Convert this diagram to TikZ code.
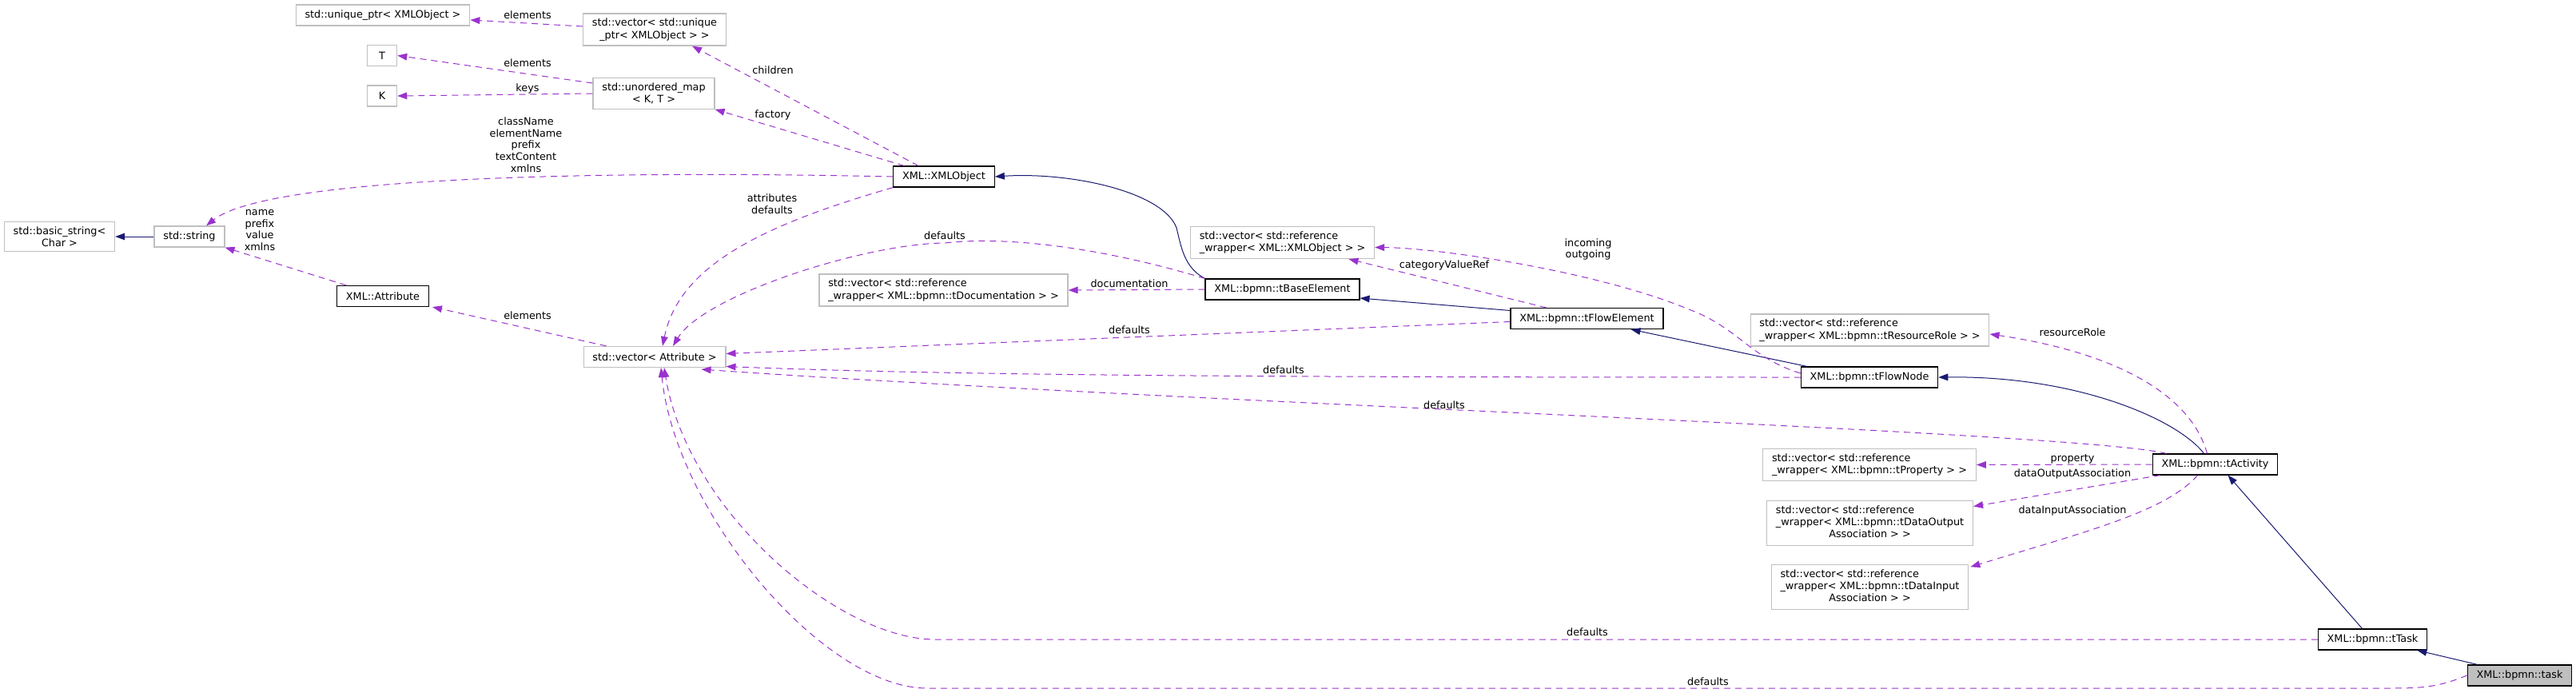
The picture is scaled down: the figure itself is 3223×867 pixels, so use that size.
\documentclass[tikz,border=0pt]{standalone}
\usepackage{fontspec}
\setmainfont{DejaVu Sans}
\usetikzlibrary{arrows.meta,calc}

\definecolor{edgeuse}{HTML}{9A32CD}
\definecolor{edgeinh}{HTML}{191970}
\definecolor{boxgray}{HTML}{BFBFBF}

\newcommand{\lastc}[1]{\multicolumn{1}{@{}c@{}}{#1}}

\tikzset{
  cls/.style={draw=black, line width=0.9pt, fill=white, font=\fontsize{9.6}{11.5}\selectfont,
    inner xsep=8.5pt, inner ysep=4.5pt, minimum height=19.5pt, minimum width=28pt},
  ext/.style={cls, draw=boxgray},
  inherit/.style={draw=edgeinh, line width=0.75pt, -{Triangle[length=9pt,width=6.5pt]}},
  uses/.style={draw=edgeuse, line width=0.75pt, dash pattern=on 6pt off 4.5pt,
    -{Triangle[length=9pt,width=6.5pt]}},
  lbl/.style={font=\fontsize{9.6}{11}\selectfont, inner sep=1pt, align=center, text=black},
}

\begin{document}
\begin{tikzpicture}[x=0.75pt,y=-0.75pt]
\useasboundingbox (0,0) rectangle (3223,867);

% classes
\node[ext, align=center] (basicstr) at (74.5,296) {std::basic\_string<\\Char >};
\node[ext] (stdstr) at (237,296) {std::string};
\node[ext] (uptr) at (479,19) {std::unique\_ptr< XMLObject >};
\node[ext, align=center] (vecuptr) at (819,37) {std::vector< std::unique\\\_ptr< XMLObject > >};
\node[ext] (tparam) at (478,69.5) {T};
\node[ext] (kparam) at (478,120) {K};
\node[ext, align=center] (umap) at (818,117) {std::unordered\_map\\< K, T >};
\node[cls] (attr) at (479,370.5) {XML::Attribute};
\node[ext] (vecattr) at (819,446.5) {std::vector< Attribute >};
\node[cls] (xmlobj) at (1181,221) {XML::XMLObject};
\node[ext, align=left] (vecdoc) at (1180.5,363) {std::vector< std::reference\\\_wrapper< XML::bpmn::tDocumentation > >};
\node[cls] (base) at (1604.5,362) {XML::bpmn::tBaseElement};
\node[ext, align=left] (vecxo) at (1604.5,303.5) {std::vector< std::reference\\\_wrapper< XML::XMLObject > >};
\node[cls] (flowel) at (1985.5,398.5) {XML::bpmn::tFlowElement};
\node[ext, align=left] (vecrr) at (2339.5,413) {std::vector< std::reference\\\_wrapper< XML::bpmn::tResourceRole > >};
\node[cls] (flownode) at (2339,472) {XML::bpmn::tFlowNode};
\node[cls] (activity) at (2771.5,581) {XML::bpmn::tActivity};
\node[ext, align=left] (vecprop) at (2339,581.5) {std::vector< std::reference\\\_wrapper< XML::bpmn::tProperty > >};
\node[ext, inner ysep=3.5pt] (vecout) at (2339.5,654.5) {\begin{tabular}{@{}l@{}}std::vector< std::reference\\\_wrapper< XML::bpmn::tDataOutput\\\lastc{Association > >}\end{tabular}};
\node[ext, inner ysep=3.5pt] (vecin) at (2339.5,734.5) {\begin{tabular}{@{}l@{}}std::vector< std::reference\\\_wrapper< XML::bpmn::tDataInput\\\lastc{Association > >}\end{tabular}};
\node[cls] (ttask) at (2968.5,800) {XML::bpmn::tTask};
\node[cls, fill=boxgray] (task) at (3152.5,845) {XML::bpmn::task};

% inheritance
\draw[inherit] (stdstr) -- (basicstr);
\draw[inherit] (base.north west) .. controls (1482,335) and (1478,310) .. (1472,285) .. controls (1455,240) and (1340,215) .. (xmlobj.east);
\draw[inherit] ($(flowel.west)+(0,-10)$) -- ($(base.east)+(0,11)$);
\draw[inherit] ($(flownode.north west)+(8,0)$) -- ($(flowel.south)+(55,0)$);
\draw[inherit] ($(activity.north)+(-14,0)$) .. controls (2725,525) and (2600,470) .. (flownode.east);
\draw[inherit] ($(ttask.north)+(-13,0)$) -- ($(activity.south)+(16,0)$);
\draw[inherit] ($(task.north west)+(13,0)$) -- ($(ttask.south east)+(-13,0)$);

% members
\draw[uses] ($(vecuptr.west)+(0,-4)$) -- ($(uptr.east)+(0,6)$) node[lbl] at (660,19) {elements};
\draw[uses] ($(umap.west)+(0,-13)$) -- (tparam.east) node[lbl] at (660,79) {elements};
\draw[uses] (umap.west) -- (kparam.east) node[lbl] at (660,111) {keys};
\draw[uses] ($(xmlobj.north)+(-32,0)$) -- ($(vecuptr.south)+(47,0)$) node[lbl] at (967,88) {children};
\draw[uses] ($(xmlobj.north west)+(14,0)$) -- (umap.south east) node[lbl] at (967,144) {factory};
\draw[uses] (xmlobj.west) .. controls (700,212) and (330,225) .. ($(stdstr.north)+(21,0)$)
  node[lbl] at (658,181) {className\\elementName\\prefix\\textContent\\xmlns};
\draw[uses] ($(attr.north west)+(12,0)$) -- (stdstr.south east) node[lbl] at (325,288) {name\\prefix\\value\\xmlns};
\draw[uses] ($(vecattr.north west)+(29,0)$) -- ($(attr.south east)+(4,0)$) node[lbl] at (660,395) {elements};
\draw[uses] (xmlobj.south west) .. controls (960,280) and (850,330) .. ($(vecattr.north)+(10,0)$)
  node[lbl] at (966,255) {attributes\\defaults};
\draw[uses] (base.north west) .. controls (1380,310) and (1260,295) .. (1182,304) .. controls (1080,305) and (880,370) .. ($(vecattr.north)+(23,0)$)
  node[lbl] at (1182,295) {defaults};
\draw[uses] (base.west) -- (vecdoc.east) node[lbl] at (1413,355) {documentation};
\draw[uses] ($(flowel.north)+(-51,0)$) -- ($(vecxo.south)+(83,0)$) node[lbl] at (1807,332) {categoryValueRef};
\draw[uses] ($(flownode.west)+(0,-5)$) .. controls (2190,448) and (2175,410) .. (2113,387) .. controls (2000,340) and (1800,310) .. ($(vecxo.east)+(0,6)$)
  node[lbl] at (1987,312) {incoming\\outgoing};
\draw[uses] ($(flowel.west)+(0,4)$) -- ($(vecattr.east)+(0,-4)$) node[lbl] at (1413,413) {defaults};
\draw[uses] (flownode.west) .. controls (1600,472) and (1200,470) .. ($(vecattr.east)+(0,12)$) node[lbl] at (1606,463) {defaults};
\draw[uses] ($(activity.north west)+(18,0)$) .. controls (2600,540) and (1500,505) .. ($(vecattr.south east)+(-31,2)$)
  node[lbl] at (1807,507) {defaults};
\draw[uses] ($(activity.north)+(-10,0)$) .. controls (2740,490) and (2640,440) .. ($(vecrr.east)+(0,5)$) node[lbl] at (2593,416) {resourceRole};
\draw[uses] (activity.west) -- (vecprop.east) node[lbl] at (2593,574) {property};
\draw[uses] ($(activity.south west)+(10,0)$) -- ($(vecout.east)+(0,-21)$) node[lbl] at (2593,593) {dataOutputAssociation};
\draw[uses] ($(activity.south)+(-22,0)$) .. controls (2710,640) and (2610,665) .. ($(vecin.north east)+(2,3)$)
  node[lbl] at (2593,639) {dataInputAssociation};
\draw[uses] (ttask.west) -- (1170,800) .. controls (1050,800) and (860,640) .. ($(vecattr.south)+(12,0)$)
  node[lbl] at (1986,791) {defaults};
\draw[uses] (task.west) .. controls (3050,860) and (3030,861) .. (2990,861) -- (1160,861) .. controls (1030,861) and (845,640) .. ($(vecattr.south)+(8,0)$)
  node[lbl] at (2137,853) {defaults};
\end{tikzpicture}
\end{document}
